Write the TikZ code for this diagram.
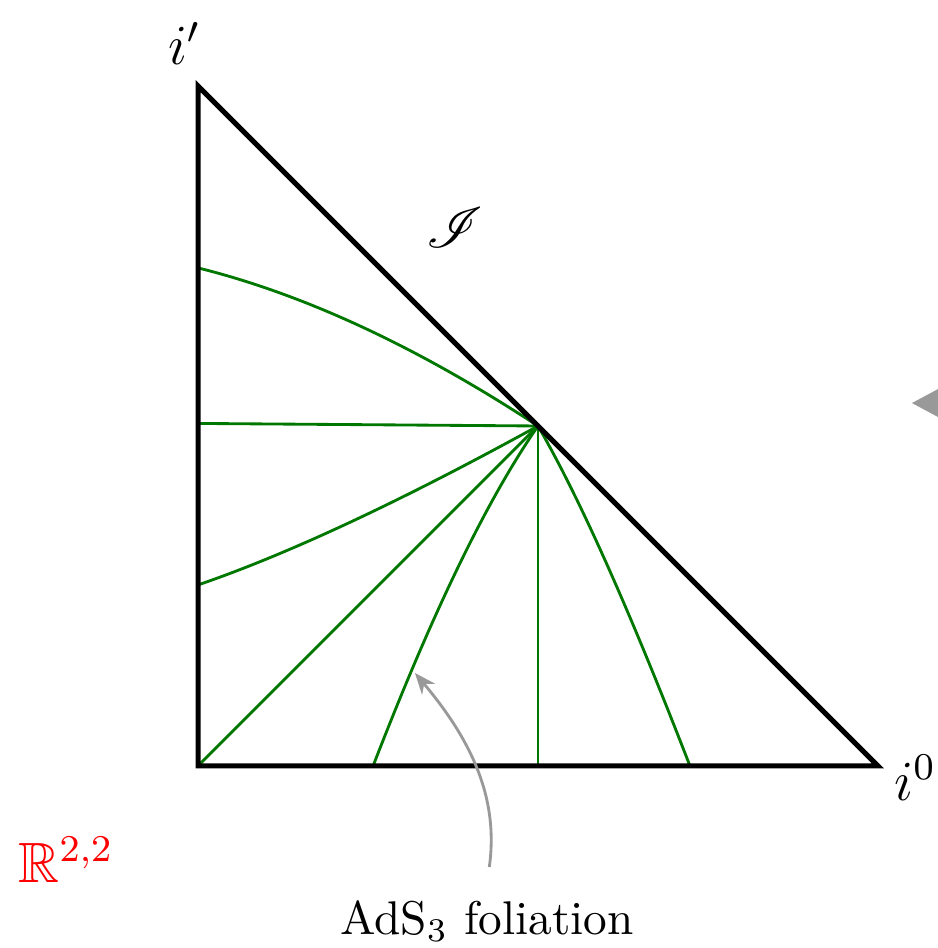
\documentclass[tikz,border=0pt]{standalone}
\usepackage{amssymb}
\usepackage{mathrsfs}
\usetikzlibrary{arrows.meta}
\definecolor{cslice}{rgb}{0,0.47,0}
\definecolor{cnote}{gray}{0.6}

\begin{document}
\begin{tikzpicture}[x=1.263cm, y=1.263cm]
  \useasboundingbox (-1.165,-1.071) rectangle (4.353,4.506);

  \coordinate (O) at (0,0);
  \coordinate (T) at (0,4);
  \coordinate (R) at (4,0);
  \coordinate (M) at (2,2);

  % tranches AdS3, toutes par le milieu de scri
  \draw[cslice, semithick] (0,2.93) .. controls (0.627,2.774) and (1.293,2.464) .. (M);
  \draw[cslice, semithick] (0,2.015) -- (M);
  \draw[cslice, semithick] (0,1.065) .. controls (0.531,1.247) and (1.198,1.559) .. (M);
  \draw[cslice, semithick] (O) -- (M);
  \draw[cslice, semithick] (1.03,0) .. controls (1.377,0.9) and (1.70,1.567) .. (M);
  \draw[cslice, semithick] (2,0) -- (M);
  \draw[cslice, semithick] (2.894,0) .. controls (2.538,0.92) and (2.24,1.587) .. (M);

  % bord du diagramme
  \draw[line width=1.05pt, line join=miter] (T) -- (O) -- (R) -- cycle;

  \node[font=\large] (iprime) at (-0.08,4.25) {$i'$};
  \node[font=\large] (izero) at (4.22,-0.07) {$i^0$};
  \node[font=\large] (scri) at (1.51,3.165) {$\mathscr{I}$};
  \node[red, font=\large] (flat) at (-0.776,-0.553) {$\mathbb{R}^{2,2}$};

  \node (foliation) at (1.70,-0.91) {AdS$_3$ foliation};
  \coordinate (tip) at (1.276,0.547);
  \draw[cnote, semithick, -{Stealth[length=4.5pt, width=3.6pt]}, shorten <=3.5pt]
    (foliation.north) to[out=82, in=-50] (tip);

  % pointe grise coupee au bord
  \fill[cnote] (4.2,2.135) -- (4.353,2.217) -- (4.353,2.053) -- cycle;
\end{tikzpicture}
\end{document}
